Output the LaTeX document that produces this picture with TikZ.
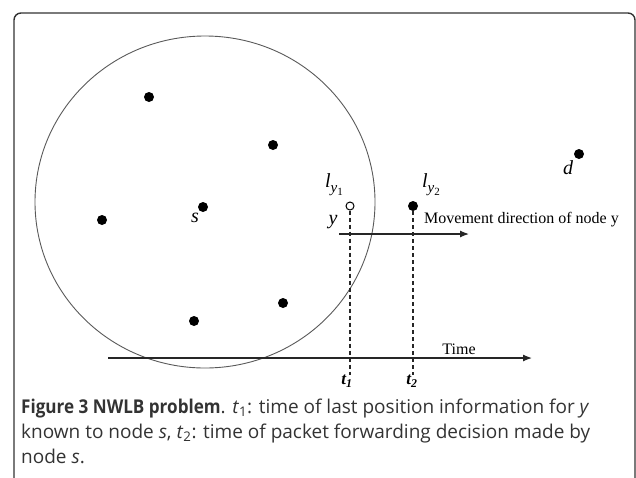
\documentclass[tikz,border=0pt]{standalone}
\usepackage{graphicx}
\usepackage{fontspec}
\setmainfont{Liberation Serif}
\newfontfamily\capfont{Open Sans}
\usetikzlibrary{arrows.meta}
\newcommand{\lsub}[1]{l\raisebox{-5pt}{\fontsize{15}{15}\selectfont y\raisebox{-3pt}{\fontsize{11}{11}\selectfont\upshape #1}}}
\begin{document}
\begin{tikzpicture}[x=1pt,y=-1pt,
  dot/.style={circle,fill=black,inner sep=0pt,minimum size=10pt},
  opendot/.style={circle,draw=black,fill=white,inner sep=0pt,minimum size=8pt,line width=1pt},
  mlab/.style={inner sep=0pt,font=\fontsize{20}{23}\selectfont\itshape},
  tlab/.style={inner sep=0pt,font=\fontsize{16}{19}\selectfont},
  blab/.style={inner sep=0pt,font=\fontsize{17}{20}\selectfont\bfseries\itshape},
  captext/.style={inner sep=0pt,anchor=base west,text=black!80,font=\capfont\fontsize{19}{24}\selectfont},
  axis/.style={line width=1.2pt,draw=black!85,-{Latex[length=9pt,width=7pt]}},
  guide/.style={dash pattern=on 4pt off 3pt,line width=1.1pt,draw=black!85},
  frame/.style={line width=1.4pt,draw=black!80,rounded corners=7pt}]
\useasboundingbox (0,0) rectangle (636,477);
\draw[frame] (14,480) -- (14,13) -- (635,13) -- (635,480);
\draw[draw=black!65,line width=0.9pt] (205,202) ellipse [x radius=170, y radius=166];
% nodes
\node[dot] (n1) at (149,97) {};
\node[dot] (n2) at (273,145) {};
\node[dot] (n3) at (102,220) {};
\node[dot] (s) at (203,207) {};
\node[dot] (n5) at (283,303) {};
\node[dot] (n6) at (194,321) {};
\node[dot] (d) at (579,154) {};
\node[opendot] (ly1) at (350,206) {};
\node[dot] (ly2) at (413,206) {};
% labels
\node[mlab] (slab) at (195,218) {s};
\node[mlab] (dlab) at (568,168) {d};
\node[mlab] (ly1lab) at (334,185) {\lsub{1}};
\node[mlab] (ly2lab) at (431,185) {\lsub{2}};
\node[mlab] (ylab) at (333,222) {y};
\node[tlab,anchor=west] (mov) at (424,220) {Movement direction of node y};
\node[tlab] (time) at (459,349) {Time};
\node[blab] (t1) at (347,381) {t\textsubscript{1}};
\node[blab] (t2) at (412,381) {t\textsubscript{2}};
% connectors
\coordinate (ta) at (108,358);
\coordinate (tb) at (532,358);
\coordinate (ma) at (339,234);
\coordinate (mb) at (469,234);
\draw[axis] (ta) -- (tb);
\draw[axis] (ma) -- (mb);
\draw[guide] (ly1.south) -- (ly1.south |- t1.north);
\draw[guide] (ly2.south) -- (ly2.south |- t2.north);
% caption
\node[captext] (cap1) at (21,413) {\scalebox{0.9}[1]{\bfseries Figure 3 NWLB problem}. \textit{t}\textsubscript{1}: time of last position information for \textit{y}};
\node[captext] (cap2) at (21,438) {known to node \textit{s}, \textit{t}\textsubscript{2}: time of packet forwarding decision made by};
\node[captext] (cap3) at (21,463) {node \textit{s}.};
\end{tikzpicture}
\end{document}
